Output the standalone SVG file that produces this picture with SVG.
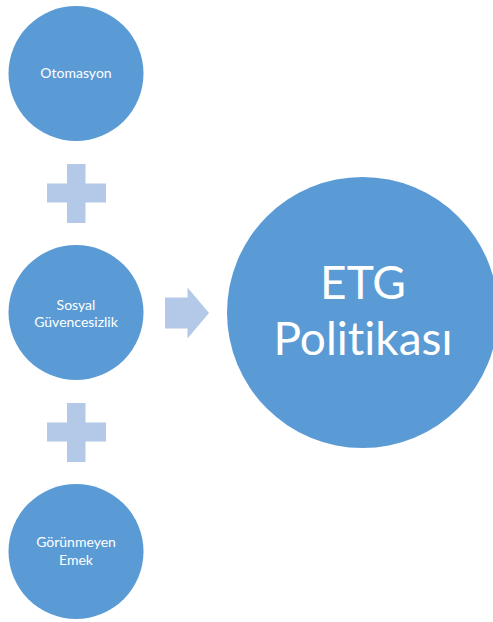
<svg xmlns="http://www.w3.org/2000/svg" width="493" height="622" viewBox="0 0 493 622">
<style>
.c{fill:#5B9BD5}
.p{fill:#B4C9E8}
.t{fill:#FFFFFF;font-family:Lato,"Open Sans","Liberation Sans",sans-serif;text-anchor:middle;font-variant-ligatures:none;font-feature-settings:"liga" 0,"dlig" 0}
.s{font-size:14px}
.b{font-size:46px}
</style>
<rect width="493" height="622" fill="#FFFFFF"/>
<g id="otomasyon">
<circle class="c" cx="76" cy="73.5" r="67.5"/>
<text class="t s" x="76" y="77.5">Otomasyon</text>
</g>
<g id="sosyal">
<circle class="c" cx="76" cy="312.5" r="67.5"/>
<text class="t s" x="76" y="309.5">Sosyal</text>
<text class="t s" x="76" y="326.5">Güvencesizlik</text>
</g>
<g id="gorunmeyen">
<circle class="c" cx="76" cy="551.5" r="67.5"/>
<text class="t s" x="76" y="547">Görünmeyen</text>
<text class="t s" x="76" y="565">Emek</text>
</g>
<g id="etg">
<circle class="c" cx="362.5" cy="312.5" r="135.5"/>
<text class="t b" x="363" y="299">ETG</text>
<text class="t b" x="363" y="354.5">Politikası</text>
</g>
<g id="connectors">
<path class="p" d="M67,164H85.5V183.5H106V202.5H85.5V223H67V202.5H47V183.5H67Z"/>
<path class="p" d="M67,403H85.5V422.5H106V441.5H85.5V462H67V441.5H47V422.5H67Z"/>
<path class="p" d="M165,297.5H187.5V287.5L209,313L187.5,338.5V328.5H165Z"/>
</g>
</svg>
